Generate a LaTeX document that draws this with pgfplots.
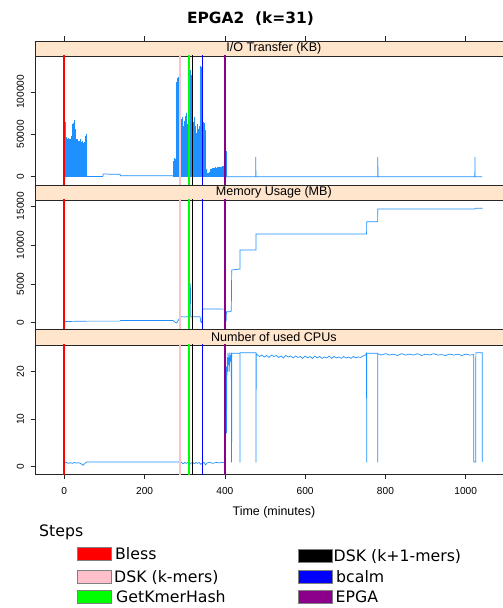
\documentclass[border=0pt]{standalone}
\usepackage{pgfplots}
\usepackage{pgfplotstable}
\pgfplotsset{compat=1.18}
\usepackage{fontspec}
\setmainfont{Liberation Sans}
\newfontfamily\dejavu{DejaVu Sans}
\definecolor{stripcol}{HTML}{FFE5CC}
\definecolor{datacol}{HTML}{1E90FF}
\definecolor{cBless}{HTML}{FF0000}
\definecolor{cDSK}{HTML}{FFC0CB}
\definecolor{cGet}{HTML}{00FF00}
\definecolor{cDSKone}{HTML}{000000}
\definecolor{cbcalm}{HTML}{0000FF}
\definecolor{cEPGA}{HTML}{8B008B}

% I/O transfer (KB), dense part (drawn as combs)
\pgfplotstableread{
t kb
0 62000
1 66000
2 58000
3 64000
4 47000
5 43000
6 45000
7 42000
8 44000
9 43000
10 46000
11 42000
12 44000
13 43000
14 45000
15 44000
16 41000
17 43000
18 48000
19 58000
20 62000
21 60000
22 55000
23 63000
24 67000
25 61000
26 66000
27 56000
28 46000
29 44000
30 45000
31 43000
32 44000
33 40000
34 42000
35 39000
36 41000
37 38000
38 42000
39 40000
40 44000
41 38000
42 41000
43 39000
44 40000
45 42000
46 38000
47 40000
48 37000
49 41000
50 39000
51 40000
52 45000
53 48000
54 50000
55 47000
271 15000
272 19000
273 21000
274 20000
275 22000
276 19000
277 21000
278 24000
279 60000
280 112000
281 114000
282 116000
283 115000
284 117000
285 113000
286 104000
287 58000
288 26000
289 62000
290 25000
291 68000
292 27000
293 55000
294 24000
295 70000
296 26000
297 60000
298 25000
299 66000
300 28000
301 72000
302 26000
303 58000
304 30000
305 75000
306 27000
307 62000
308 28000
309 70000
310 118000
311 124000
312 127000
313 125000
314 122000
315 126000
316 120000
317 65000
318 25000
319 58000
320 24000
321 64000
322 26000
323 55000
324 25000
325 70000
326 27000
327 60000
328 24000
329 52000
330 26000
331 62000
332 25000
333 48000
334 23000
335 56000
336 24000
337 60000
338 125000
339 128000
340 130000
341 129000
342 127000
343 130000
344 122000
345 64000
346 60000
347 65000
348 58000
349 63000
350 55000
351 30000
352 12000
353 9000
354 6000
355 4000
356 3500
357 4000
358 3000
359 4500
360 4000
361 5000
362 6000
363 8000
364 9000
365 8500
366 9500
367 9000
368 10000
369 9500
370 10000
371 9000
372 10500
373 9500
374 10000
375 11000
376 9500
377 10000
378 10500
379 10000
380 11000
381 10000
382 10500
383 11000
384 10000
385 11500
386 10500
387 11000
388 12000
389 11000
390 11500
391 12000
392 11000
393 12500
394 12000
395 11500
396 12000
397 13000
398 12000
399 14000
400 50000
401 55000
402 54000
403 30000
}\iodense

% I/O transfer (KB), sparse part
\pgfplotstableread{
t kb
55 0
56 300
96 300
97 3300
110 3000
125 3000
139 2800
140 1000
270 1000
404 0
476.6 0
477 23000
477.4 0
780.6 0
781 23000
781.4 0
1022.6 0
1023 23000
1023.4 0
1041 0
}\ioline

% Memory usage (MB)
\pgfplotstableread{
t mb
0 150
56 200
139 200
140 280
271 280
276 50
280 0
284 300
289 770
300 740
305 760
309 780
310 700
311 5000
314 5000
315 780
318 760
319 500
320 780
330 760
338 780
340 100
342 0
343 300
344 1760
380 1760
399 1740
400 900
401 50
402 700
403 100
404 1400
412 1400
416 1500
417 6770
437.5 6900
437.7 9340
477.4 9340
477.6 11400
753 11400
753.2 12980
780.5 12980
780.7 14610
1023 14610
1024 14700
1042 14700
}\memory

% Number of used CPUs
\pgfplotstableread{
t cpu
0 0.8
5 0.9
10 0.7
15 0.85
20 0.7
25 0.9
30 0.75
35 0.85
40 0.7
44 0.5
47 0.3
50 0.6
53 0.8
56 1.0
287 1.0
288 0.8
292 0.9
296 0.6
300 0.9
304 0.7
308 0.9
312 0.4
316 0.8
320 0.9
324 0.6
328 0.9
332 0.7
336 0.9
340 0.5
344 0.8
348 0.9
352 0.4
356 0.8
362 0.9
370 0.7
378 0.9
386 0.8
394 0.9
400 0.8
401 5
402 16
403 21
404 7
405 19
406 23
407 20
408 24
409 21.5
410 23
411 20
412 24
413 22
414 23.5
415 22.5
416 24
416.5 1
416.8 1
417.2 23.9
437.4 23.9
437.6 1
437.8 1
438 24
477.4 24
477.5 1
477.7 1
478 23.8
480 23.6
486 23.2
492 23.5
498 23.1
504 23.4
510 23.0
516 23.5
522 23.2
528 23.4
534 23.0
540 23.3
546 22.9
552 23.4
558 23.1
564 23.3
570 22.9
576 23.3
582 23.0
588 23.2
594 22.8
600 23.3
606 22.9
612 23.2
618 22.8
624 23.3
630 22.9
636 23.2
642 22.8
648 23.1
654 22.9
660 23.3
666 22.8
672 23.2
678 22.9
684 23.1
690 22.8
696 23.2
702 22.9
708 23.1
714 22.8
720 23.2
726 22.9
732 23.1
738 23.0
744 23.3
750 23.5
753 23.9
753.1 1
753.3 1
753.5 23.9
780.5 23.9
780.6 1
780.8 1
781 23.8
790 23.5
800 23.8
810 23.5
820 23.7
830 23.4
840 23.8
850 23.5
860 23.7
870 23.5
880 23.8
890 23.4
900 23.7
910 23.5
920 23.8
930 23.5
940 23.6
950 23.4
960 23.7
970 23.5
980 23.7
990 23.4
1000 23.7
1010 23.5
1020 23.6
1020.2 1
1025 1
1025.2 24
1041 24
1041.2 1
}\cpus

\pgfplotsset{
  panel/.style={
    anchor=south west, scale only axis, width=477.7bp,
    xmin=-73, xmax=1117,
    axis line style={black!85, line width=0.5bp},
    every tick/.style={black!85, line width=0.5bp},
    major tick length=4.5bp,
    tick align=outside,
    scaled y ticks=false, scaled x ticks=false,
    ytick pos=left, xtick pos=left,
    yticklabel style={rotate=90, anchor=south, font=\fontsize{10.2}{10.2}\selectfont},
    yticklabel shift=3bp,
    xticklabel style={font=\fontsize{10.2}{10.2}\selectfont},
    xticklabel shift=5bp,
  },
  strip/.style={
    anchor=south west, scale only axis, width=477.7bp,
    xmin=-73, xmax=1117, ymin=0, ymax=1,
    ytick=\empty, xtick=\empty,
    axis line style={black!85, line width=0.5bp},
    axis background/.style={fill=stripcol},
  },
  dataline/.style={datacol, line width=0.7bp, no marks},
}

\newcommand{\steplines}[2]{%
  \addplot[cBless, line width=1.9bp] coordinates {(0,#1) (0,#2)};
  \addplot[cDSK, line width=1.7bp] coordinates {(289,#1) (289,#2)};
  \addplot[cGet, line width=1.7bp] coordinates {(311,#1) (311,#2)};
  \addplot[cDSKone, line width=1.7bp] coordinates {(319,#1) (319,#2)};
  \addplot[cbcalm, line width=1.7bp] coordinates {(344,#1) (344,#2)};
  \addplot[cEPGA, line width=1.7bp] coordinates {(401,#1) (401,#2)};
}

\begin{document}
\begin{tikzpicture}
\useasboundingbox (0,0) rectangle (503bp,608bp);

% title
\node[font=\dejavu\bfseries\fontsize{15.5}{16}\selectfont, anchor=base, inner sep=0pt] at (250.5bp,584bp) {EPGA2\ \ (k=31)};

% ---------- strip 1 (with top ticks) ----------
\begin{axis}[strip, at={(35bp,552bp)}, height=15bp,
  xtick={0,200,400,600,800,1000}, xtick pos=right,
  xticklabels={{},{},{},{},{},{}},
  tick align=outside, major tick length=4.5bp,
  every tick/.style={black!85, line width=0.5bp}]
  \node[font=\fontsize{12.6}{13}\selectfont, inner sep=0pt] at (rel axis cs:0.5,0.5) {I/O Transfer (KB)};
\end{axis}

% ---------- panel 1: I/O ----------
\begin{axis}[panel, at={(35bp,423bp)}, height=129bp,
  ymin=-9787, ymax=142330, xtick=\empty,
  ytick={0,50000,100000}, yticklabels={0,50000,100000}]
  \addplot[datacol, ycomb, line width=0.6bp, no marks] table[x=t, y=kb] {\iodense};
  \addplot[dataline] table[x=t, y=kb] {\ioline};
  \steplines{-20000}{200000}
\end{axis}

% ---------- strip 2 ----------
\begin{axis}[strip, at={(35bp,408bp)}, height=15bp]
  \node[font=\fontsize{12.6}{13}\selectfont, inner sep=0pt] at (rel axis cs:0.5,0.5) {Memory Usage (MB)};
\end{axis}

% ---------- panel 2: Memory ----------
\begin{axis}[panel, at={(35bp,278.5bp)}, height=129.5bp,
  ymin=-874, ymax=15771, xtick=\empty,
  ytick={0,5000,10000,15000}, yticklabels={0,5000,10000,15000}]
  \addplot[dataline] table[x=t, y=mb] {\memory};
  \steplines{-2000}{20000}
\end{axis}

% ---------- strip 3 ----------
\begin{axis}[strip, at={(35bp,263bp)}, height=15.5bp]
  \node[font=\fontsize{12.6}{13}\selectfont, inner sep=0pt] at (rel axis cs:0.5,0.5) {Number of used CPUs};
\end{axis}

% ---------- panel 3: CPUs ----------
\begin{axis}[panel, at={(35bp,133.5bp)}, height=129.5bp,
  ymin=-1.642, ymax=25.62,
  ytick={0,10,20}, yticklabels={0,10,20},
  xtick={0,200,400,600,800,1000}, xticklabels={0,200,400,600,800,1000}]
  \addplot[dataline] table[x=t, y=cpu] {\cpus};
  \steplines{-5}{30}
\end{axis}

% x label
\node[font=\fontsize{12.5}{13}\selectfont, anchor=base, inner sep=0pt] at (273.9bp,92.3bp) {Time (minutes)};

% ---------- legend ----------
\begin{scope}[every node/.style={font=\dejavu\fontsize{15.8}{16}\selectfont, anchor=base west, inner sep=0pt}]
  \node at (39bp,71.5bp) {Steps};
  \filldraw[fill=cBless, draw=black!50, line width=0.4bp] (77bp,47.5bp) rectangle (111bp,60.5bp);
  \node at (115bp,48.3bp) {Bless};
  \filldraw[fill=cDSK, draw=black!50, line width=0.4bp] (77bp,25.2bp) rectangle (111bp,38.2bp);
  \node at (114bp,26bp) {DSK (k-mers)};
  \filldraw[fill=cGet, draw=black!50, line width=0.4bp] (77bp,4.5bp) rectangle (111bp,17.5bp);
  \node at (116bp,5.3bp) {GetKmerHash};
  \filldraw[fill=cDSKone, draw=black!50, line width=0.4bp] (298bp,45.5bp) rectangle (332bp,58.5bp);
  \node at (333.5bp,46.3bp) {DSK (k+1-mers)};
  \filldraw[fill=cbcalm, draw=black!50, line width=0.4bp] (298bp,25bp) rectangle (332bp,38bp);
  \node at (336bp,25.8bp) {bcalm};
  \filldraw[fill=cEPGA, draw=black!50, line width=0.4bp] (298bp,4.5bp) rectangle (332bp,17.5bp);
  \node at (335.5bp,5.3bp) {EPGA};
\end{scope}
\end{tikzpicture}
\end{document}
